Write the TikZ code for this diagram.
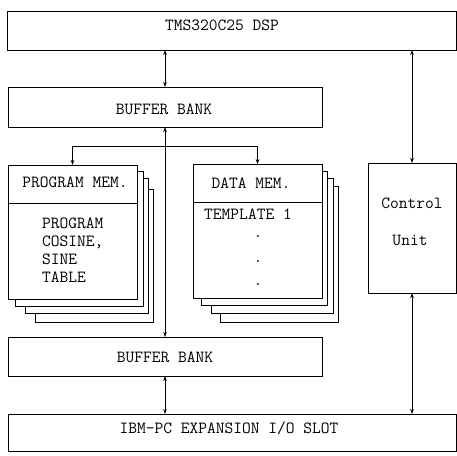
\documentclass[tikz,border=0pt]{standalone}
\usetikzlibrary{arrows.meta}
\begin{document}
\begin{tikzpicture}[x=1pt,y=-1pt,
  box/.style={draw, line width=0.7pt, fill=white, inner sep=0pt, outer sep=0pt, anchor=north west},
  tx/.style={font=\fontsize{17}{18}\selectfont\ttfamily, inner sep=0pt},
  tip/.style={Stealth[length=5pt,width=3.6pt]},
  arr/.style={line width=0.7pt, {Stealth[length=5pt,width=3.6pt]}-{Stealth[length=5pt,width=3.6pt]}}]
\useasboundingbox (0,0) rectangle (457,455);
% top DSP
\node[box, minimum width=449pt, minimum height=39pt] (dsp) at (7,11) {};
\node[tx] (dspt) at (222,25) {TMS320C25 DSP};
% upper buffer
\node[box, minimum width=314pt, minimum height=40pt] (buf1) at (8,87) {};
\node[tx] (buf1t) at (164,109) {BUFFER BANK};
% program memory stack
\node[box, minimum width=118pt, minimum height=133pt] (pm4) at (35,189) {};
\node[box, minimum width=123pt, minimum height=135pt] (pm3) at (25,178) {};
\node[box, minimum width=128pt, minimum height=135pt] (pm2) at (15,171) {};
\node[box, minimum width=129pt, minimum height=134pt] (pm) at (8,165) {};
\draw[line width=0.7pt] (pm.west |- 0,203) -- (pm.east |- 0,203);
\node[tx] (pmh) at (75,182) {PROGRAM MEM.};
\node[tx, align=left, anchor=west] (pmt) at (42,250) {PROGRAM\\COSINE,\\SINE\\TABLE};
% data memory stack
\node[box, minimum width=118pt, minimum height=136pt] (dm4) at (220,186) {};
\node[box, minimum width=122pt, minimum height=135pt] (dm3) at (211,178) {};
\node[box, minimum width=126pt, minimum height=134pt] (dm2) at (201,171) {};
\node[box, minimum width=129pt, minimum height=134pt] (dm) at (193,164) {};
\draw[line width=0.7pt] (dm.west |- 0,202) -- (dm.east |- 0,202);
\node[tx] (dmh) at (251,183) {DATA MEM.};
\node[tx] (dmt) at (248,214) {TEMPLATE 1};
\node[tx] (d1) at (258,237) {.};
\node[tx] (d2) at (258,262) {.};
\node[tx] (d3) at (258,285) {.};
% control unit
\node[box, minimum width=88pt, minimum height=130pt] (ctrl) at (368,163) {};
\node[tx] (ct1) at (412,203) {Control};
\node[tx] (ct2) at (410,240) {Unit};
% lower buffer
\node[box, minimum width=314pt, minimum height=39pt] (buf2) at (8,337) {};
\node[tx] (buf2t) at (165,357) {BUFFER BANK};
% IBM slot
\node[box, minimum width=448pt, minimum height=37pt] (ibm) at (8,414) {};
\node[tx] (ibmt) at (229,428) {IBM-PC EXPANSION I/O SLOT};
% connectors
\coordinate (br) at (165,146);
\draw[arr] (dsp.south -| buf1.north) -- (buf1.north);
\draw[arr] (dsp.south -| ctrl.north) -- (ctrl.north);
\draw[arr] (buf1.south) -- (buf2.north);
\draw[arr] (pm.north) -- (pm.north |- br) -- (dm.north |- br) -- (dm.north);
\draw[arr] (buf2.south) -- (buf2.south |- ibm.north);
\draw[arr] (ctrl.south) -- (ctrl.south |- ibm.north);
\end{tikzpicture}
\end{document}
